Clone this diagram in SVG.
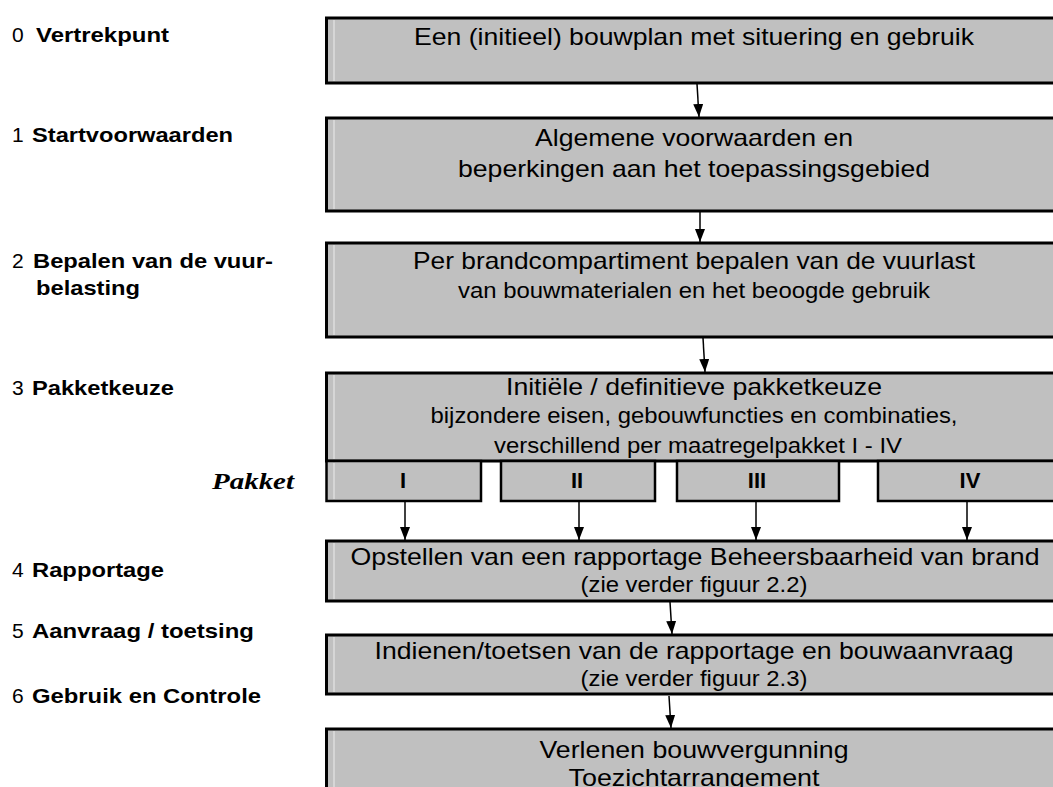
<svg xmlns="http://www.w3.org/2000/svg" width="1053" height="787" viewBox="0 0 1053 787">
<defs>
<style>
.box{fill:#c0c0c0;stroke:#000;stroke-width:3}
.sub{fill:#c0c0c0;stroke:#000;stroke-width:2.5}
.hl{stroke:#d6d6d6;stroke-width:2}
.big{font-family:"Liberation Sans",Arial,sans-serif;font-size:24px;fill:#000;text-anchor:middle}
.sm{font-family:"Liberation Sans",Arial,sans-serif;font-size:21.5px;fill:#000;text-anchor:middle}
.num{font-family:"Liberation Sans",Arial,sans-serif;font-size:21px;fill:#000}
.lab{font-family:"Liberation Sans",Arial,sans-serif;font-size:21px;font-weight:bold;fill:#000}
.rom{font-family:"Liberation Sans",Arial,sans-serif;font-size:22px;font-weight:bold;fill:#000;text-anchor:middle}
.pk{font-family:"Liberation Serif","Times New Roman",serif;font-size:24px;font-weight:bold;font-style:italic;fill:#000}
.con{stroke:#000;stroke-width:1.5;fill:none;marker-end:url(#ah)}
</style>
<marker id="ah" viewBox="0 0 13 10" markerUnits="userSpaceOnUse" markerWidth="13" markerHeight="10" refX="13" refY="5" orient="auto">
<path d="M0,0 L13,5 L0,10 z" fill="#000"/>
</marker>
</defs>
<rect width="1053" height="787" fill="#fff"/>

<g id="labels">
<text class="num" x="12" y="42">0</text><text class="lab" x="36" y="42" textLength="133" lengthAdjust="spacingAndGlyphs">Vertrekpunt</text>
<text class="num" x="12" y="142">1</text><text class="lab" x="32" y="142" textLength="201" lengthAdjust="spacingAndGlyphs">Startvoorwaarden</text>
<text class="num" x="12" y="268">2</text><text class="lab" x="33" y="268" textLength="240" lengthAdjust="spacingAndGlyphs">Bepalen van de vuur-</text>
<text class="lab" x="36" y="295" textLength="104" lengthAdjust="spacingAndGlyphs">belasting</text>
<text class="num" x="12" y="395">3</text><text class="lab" x="32" y="395" textLength="142" lengthAdjust="spacingAndGlyphs">Pakketkeuze</text>
<text class="pk" x="212" y="489" textLength="82" lengthAdjust="spacingAndGlyphs">Pakket</text>
<text class="num" x="12" y="577">4</text><text class="lab" x="32" y="577" textLength="132" lengthAdjust="spacingAndGlyphs">Rapportage</text>
<text class="num" x="12" y="638">5</text><text class="lab" x="32" y="638" textLength="222" lengthAdjust="spacingAndGlyphs">Aanvraag / toetsing</text>
<text class="num" x="12" y="703">6</text><text class="lab" x="32" y="703" textLength="229" lengthAdjust="spacingAndGlyphs">Gebruik en Controle</text>
</g>

<g id="node0">
<rect class="box" x="326.5" y="18" width="760" height="65"/>
<line class="hl" x1="334" y1="20" x2="334" y2="81"/>
<text class="big" x="694" y="45" textLength="560" lengthAdjust="spacingAndGlyphs">Een (initieel) bouwplan met situering en gebruik</text>
</g>

<g id="node1">
<rect class="box" x="326.5" y="118" width="760" height="93"/>
<line class="hl" x1="334" y1="120" x2="334" y2="209"/>
<text class="big" x="694" y="146" textLength="318" lengthAdjust="spacingAndGlyphs">Algemene voorwaarden en</text>
<text class="big" x="694" y="177" textLength="472" lengthAdjust="spacingAndGlyphs">beperkingen aan het toepassingsgebied</text>
</g>

<g id="node2">
<rect class="box" x="326.5" y="243" width="760" height="94"/>
<line class="hl" x1="334" y1="245" x2="334" y2="335"/>
<text class="big" x="694" y="269" textLength="562" lengthAdjust="spacingAndGlyphs">Per brandcompartiment bepalen van de vuurlast</text>
<text class="sm" x="694" y="298" textLength="472" lengthAdjust="spacingAndGlyphs">van bouwmaterialen en het beoogde gebruik</text>
</g>

<g id="node3">
<rect class="box" x="326.5" y="373" width="760" height="88"/>
<line class="hl" x1="334" y1="375" x2="334" y2="459"/>
<text class="big" x="694" y="395" textLength="376" lengthAdjust="spacingAndGlyphs">Initiële / definitieve pakketkeuze</text>
<text class="sm" x="694" y="423" textLength="527" lengthAdjust="spacingAndGlyphs">bijzondere eisen, gebouwfuncties en combinaties,</text>
<text class="sm" x="698" y="453" textLength="408" lengthAdjust="spacingAndGlyphs">verschillend per maatregelpakket I - IV</text>
</g>

<g id="pakket-I">
<rect class="sub" x="326.5" y="461" width="154.5" height="40"/>
<line class="hl" x1="334" y1="463" x2="334" y2="499"/>
<text class="rom" x="403" y="488">I</text>
</g>
<g id="pakket-II">
<rect class="sub" x="501" y="461" width="154" height="40"/>
<text class="rom" x="577" y="488">II</text>
</g>
<g id="pakket-III">
<rect class="sub" x="677" y="461" width="162" height="40"/>
<text class="rom" x="757" y="488">III</text>
</g>
<g id="pakket-IV">
<rect class="sub" x="878" y="461" width="200" height="40"/>
<text class="rom" x="970" y="488">IV</text>
</g>

<g id="node4">
<rect class="box" x="326.5" y="541" width="760" height="60"/>
<line class="hl" x1="334" y1="543" x2="334" y2="599"/>
<text class="big" x="695" y="565" textLength="689" lengthAdjust="spacingAndGlyphs">Opstellen van een rapportage Beheersbaarheid van brand</text>
<text class="sm" x="694" y="592" textLength="227" lengthAdjust="spacingAndGlyphs">(zie verder figuur 2.2)</text>
</g>

<g id="node5">
<rect class="box" x="326.5" y="635" width="760" height="59"/>
<line class="hl" x1="334" y1="637" x2="334" y2="692"/>
<text class="big" x="694" y="659" textLength="639" lengthAdjust="spacingAndGlyphs">Indienen/toetsen van de rapportage en bouwaanvraag</text>
<text class="sm" x="694" y="686" textLength="227" lengthAdjust="spacingAndGlyphs">(zie verder figuur 2.3)</text>
</g>

<g id="node6">
<rect class="box" x="326.5" y="729" width="760" height="80"/>
<line class="hl" x1="334" y1="731" x2="334" y2="787"/>
<text class="big" x="694" y="758" textLength="309" lengthAdjust="spacingAndGlyphs">Verlenen bouwvergunning</text>
<text class="big" x="694" y="786" textLength="251" lengthAdjust="spacingAndGlyphs">Toezichtarrangement</text>
</g>

<g id="connectors">
<line class="con" x1="697" y1="84" x2="699" y2="117"/>
<line class="con" x1="700" y1="212" x2="700" y2="242"/>
<line class="con" x1="703" y1="338" x2="705" y2="372"/>
<line class="con" x1="405" y1="502" x2="405" y2="540"/>
<line class="con" x1="579" y1="502" x2="579" y2="540"/>
<line class="con" x1="756" y1="502" x2="756" y2="540"/>
<line class="con" x1="967" y1="502" x2="967" y2="540"/>
<line class="con" x1="670" y1="602" x2="672" y2="634"/>
<line class="con" x1="669" y1="696" x2="671" y2="728"/>
</g>
</svg>
